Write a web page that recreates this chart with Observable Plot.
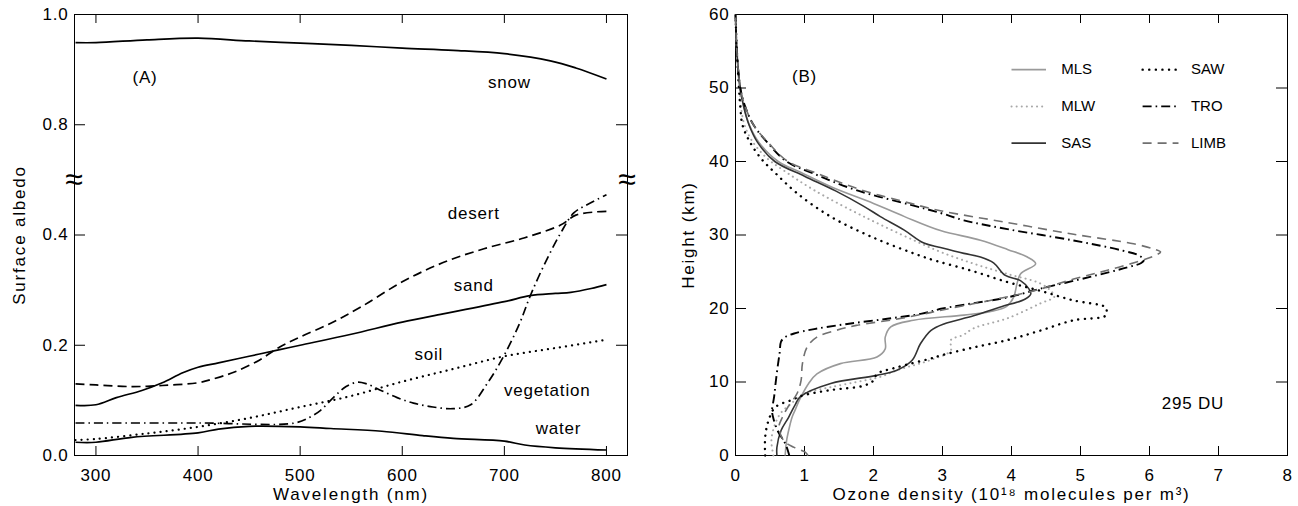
<!DOCTYPE html>
<html><head><meta charset="utf-8">
<script src="https://cdn.jsdelivr.net/npm/d3@7"></script>
<script src="https://cdn.jsdelivr.net/npm/@observablehq/plot@0.6"></script>
<style>
body{margin:0;background:#fff;}
#wrap{position:relative;width:1298px;height:506px;overflow:hidden;background:#fff;}
#left{position:absolute;left:0;top:0;}
#right{position:absolute;left:650px;top:0;}
#wrap svg text{letter-spacing:0.8px;}
#wrap svg .axlabel text{letter-spacing:1.8px;}
#wrap svg .legend text{letter-spacing:0px;}
</style></head><body><div id="wrap"><div id="left"></div><div id="right"></div></div>
<script>
// ---------- Panel (A): surface albedo vs wavelength ----------
const snow = [[280,0.949],[300,0.949],[350,0.954],[400,0.957],[450,0.952],[500,0.948],[550,0.944],[600,0.939],[650,0.935],[700,0.929],[745,0.916],[770,0.903],[800,0.883]];
const desert = [[280,0.130],[300,0.128],[335,0.125],[365,0.127],[400,0.132],[415,0.139],[435,0.151],[460,0.173],[480,0.197],[500,0.215],[530,0.24],[560,0.27],[600,0.315],[640,0.35],[680,0.375],[720,0.395],[755,0.418],[770,0.436],[790,0.442],[800,0.443]];
const sand = [[280,0.091],[300,0.092],[320,0.105],[345,0.118],[365,0.132],[385,0.15],[400,0.16],[420,0.168],[450,0.18],[480,0.192],[500,0.2],[550,0.22],[600,0.242],[640,0.257],[700,0.279],[725,0.29],[750,0.294],[765,0.296],[785,0.303],[800,0.31]];
const soil = [[280,0.028],[300,0.03],[350,0.04],[400,0.052],[450,0.068],[500,0.088],[550,0.108],[600,0.134],[650,0.157],[700,0.18],[750,0.195],[800,0.21]];
const vegetation = [[280,0.059],[400,0.059],[495,0.059],[510,0.07],[520,0.082],[533,0.106],[545,0.125],[556,0.133],[565,0.13],[578,0.119],[595,0.105],[611,0.095],[630,0.088],[650,0.085],[667,0.092],[683,0.13],[699,0.179],[715,0.24],[725,0.288],[738,0.342],[755,0.403],[768,0.44],[781,0.455],[800,0.473]];
const water = [[280,0.024],[300,0.024],[335,0.033],[400,0.041],[420,0.048],[450,0.053],[500,0.052],[530,0.049],[580,0.044],[620,0.036],[650,0.031],[700,0.026],[720,0.019],[750,0.014],[800,0.01]];
const wlTicks = [300,400,500,600,700,800];
const albTicks = [0.0,0.2,0.4,0.8,1.0];
const albBreak = [0.5];
const leftLabels = [
  {t:"(A)", w:348, a:0.885},{t:"snow", w:705, a:0.877},{t:"desert", w:670, a:0.439},
  {t:"sand", w:670, a:0.309},{t:"soil", w:626, a:0.183},{t:"vegetation", w:742, a:0.118},{t:"water", w:753, a:0.0485}
];

// ---------- Panel (B): ozone profiles (density, height) ----------
const MLS = [[0.72,0],[0.74,2],[0.78,3.8],[0.82,5.2],[0.86,6.1],[0.95,8.0],[1.06,9.8],[1.18,11.1],[1.52,12.5],[2.05,13.4],[2.17,14.5],[2.17,16.1],[2.25,17.5],[2.58,18.4],[3.31,19.1],[3.7,19.6],[3.93,20.3],[4.03,21.5],[4.08,23.4],[4.13,24.7],[4.35,26.1],[4.23,27.0],[3.95,28.0],[3.55,29.3],[2.97,30.6],[2.45,32.5],[2.0,34.3],[1.4,36.5],[0.95,38.5],[0.62,40],[0.34,42.6],[0.2,45],[0.12,47.5],[0.06,50],[0.02,55],[0,60]];
const MLW = [[0.55,0],[0.52,2.0],[0.56,3.9],[0.65,5.7],[0.8,7.0],[0.99,8.4],[1.38,9.3],[1.86,10.2],[2.1,10.7],[2.34,11.6],[2.83,13.0],[3.12,14.3],[3.12,15.7],[3.3,16.4],[3.45,17.3],[3.95,18.7],[4.42,20.7],[4.62,21.6],[4.58,22.3],[4.42,23.4],[3.94,24.7],[3.45,26.1],[2.97,27.7],[2.58,29.3],[1.86,32.5],[1.14,36.1],[0.68,38.9],[0.45,40.5],[0.24,42.8],[0.13,45],[0.08,47.4],[0.06,50],[0.02,55],[0,60]];
const SAS = [[0.60,0],[0.60,1.1],[0.66,3.4],[0.77,5.2],[0.87,7.0],[0.94,8.0],[1.38,9.8],[2.05,10.9],[2.34,11.6],[2.56,12.95],[2.68,15.2],[2.83,17.0],[3.02,17.9],[3.45,19.0],[3.84,20.2],[4.2,21.3],[4.28,22.0],[4.25,22.7],[4.13,23.8],[3.91,24.5],[3.74,26.2],[3.55,27.0],[3.31,27.5],[2.97,28.3],[2.73,28.9],[2.44,30.7],[2.1,32.5],[1.86,33.9],[1.45,36],[1.0,38],[0.57,40],[0.32,42.6],[0.195,45],[0.12,47.4],[0.07,50],[0.02,55],[0,60]];
const SAW = [[0.43,0],[0.43,2.5],[0.48,4.8],[0.58,6.6],[0.8,7.5],[0.99,8.2],[1.38,8.9],[1.86,9.5],[2.0,10.2],[2.05,11.1],[2.34,12.0],[2.83,13.2],[2.97,13.6],[3.45,14.7],[3.94,15.7],[4.42,17.0],[4.9,18.4],[5.36,19.0],[5.38,19.7],[5.36,20.2],[4.9,21.1],[4.42,22.4],[3.94,23.6],[3.4,25.2],[2.9,26.5],[2.58,27.5],[1.96,29.8],[1.38,32.5],[0.89,35.7],[0.58,38.4],[0.38,40.3],[0.2,42.8],[0.1,45],[0.07,47.4],[0.05,50],[0.02,55],[0,60]];
const TRO = [[0.78,0],[0.74,1.2],[0.70,2.0],[0.62,3.2],[0.55,5.0],[0.53,6.1],[0.56,8],[0.58,9.75],[0.61,12],[0.64,14],[0.66,15.5],[0.72,16.1],[0.85,16.6],[1.14,17.2],[1.62,17.9],[2.2,18.6],[2.7,19.3],[3.0,20.0],[3.5,20.8],[3.94,21.5],[4.42,22.7],[5.14,24.3],[5.68,25.6],[5.88,26.2],[5.92,26.6],[5.85,27.2],[5.6,27.9],[4.9,29.25],[3.94,30.8],[3.31,32.0],[2.97,33.0],[2.54,34.1],[1.75,36.1],[1.12,38.4],[0.74,40],[0.48,42.4],[0.26,45],[0.14,47.5],[0.07,50],[0.02,55],[0,60]];
const LIMB = [[1.05,0],[1.01,0.45],[0.85,1.1],[0.70,2.0],[0.63,3.9],[0.68,5.2],[0.76,6.6],[0.89,8.4],[0.95,10.2],[0.97,12.5],[1.04,14.8],[1.18,16.1],[1.45,17.0],[1.75,17.7],[2.3,18.5],[2.7,19.2],[3.0,19.8],[3.69,21.1],[4.32,22.4],[4.9,24.0],[5.39,25.2],[5.87,26.5],[6.1,27.3],[6.16,27.7],[6.06,28.1],[5.77,28.8],[4.9,30.1],[3.94,31.7],[2.97,33.3],[2.54,34.3],[1.8,36.2],[1.18,38.4],[0.76,40],[0.49,42.4],[0.26,45],[0.14,47.5],[0.07,50],[0.02,55],[0,60]];
const densTicks = [0,1,2,3,4,5,6,7,8];
const hTicks = [0,10,20,30,40,50,60];
const seriesNames = ["MLS","MLW","SAS","SAW","TRO","LIMB"];
const rightLabels = [{t:"(B)", d:1.0, h:51.5},{t:"295 DU", d:6.63, h:7.03}];

// ---------- styles & layout ----------
const FONT = "'Liberation Sans', Arial, sans-serif";
const leftStyle = {
  snow:{stroke:"#000"}, desert:{stroke:"#000", dash:"9,5"}, sand:{stroke:"#000"},
  soil:{stroke:"#000", dash:"0.1,6", cap:"round", w:2.2}, vegetation:{stroke:"#000", dash:"9,4,1.5,4"}, water:{stroke:"#000"}
};
const rightStyle = {
  MLS:{stroke:"#9a9a9a", w:1.6}, MLW:{stroke:"#a8a8a8", dash:"0.1,5", w:2, cap:"round"},
  SAS:{stroke:"#333333", w:1.6}, SAW:{stroke:"#000", dash:"0.1,6.5", w:2.4, cap:"round"},
  TRO:{stroke:"#000", dash:"9,4,1.6,4", w:1.9}, LIMB:{stroke:"#707070", dash:"9,6", w:1.6}
};
const rightData = {MLS, MLW, SAS, SAW, TRO, LIMB};
const leftData = {snow, desert, sand, soil, vegetation, water};

const W_L = 650, H = 506, mT = 14, mB = 51;
const mL_L = 74, mR_L = 23;
const W_R = 648, mL_R = 85, mR_R = 11;
const plotH = H - mT - mB;
const plotW_L = W_L - mL_L - mR_L, plotW_R = W_R - mL_R - mR_R;
const tickX = 9, tickY = 11;

const brk = v => v <= 0.55 ? v : v - 0.2;   // broken axis: 0.5–0.7 removed
const albPos = albTicks.map(brk);
const albFmt = d => d3.format(".1f")(albTicks[albPos.indexOf(d)]);

function inwardTicks(xs, ys, pw) {
  return [
    Plot.tickX(xs, {x: d => d, insetTop: plotH - tickX, stroke: "#000"}),
    Plot.tickX(xs, {x: d => d, insetBottom: plotH - tickX, stroke: "#000"}),
    Plot.tickY(ys, {y: d => d, insetRight: pw - tickY, stroke: "#000"}),
    Plot.tickY(ys, {y: d => d, insetLeft: pw - tickY, stroke: "#000"})
  ];
}

// ---------- left plot ----------
const leftMarks = [
  Plot.frame({stroke: "#000"}),
  ...inwardTicks(wlTicks, albPos, plotW_L),
  Plot.axisX(wlTicks, {tickSize: 0, tickPadding: 13, fontSize: 17, label: null}),
  Plot.axisY(albPos, {tickSize: 0, tickPadding: 6, fontSize: 17, tickFormat: albFmt, label: null}),
  Plot.text(albBreak, {y: d => brk(d), frameAnchor: "left", text: () => "≈", fontSize: 32, textAnchor: "middle"}),
  Plot.text(albBreak, {y: d => brk(d), frameAnchor: "right", text: () => "≈", fontSize: 32, textAnchor: "middle"}),
  ...Object.entries(leftData).map(([k, pts]) => Plot.line(pts, {
    x: d => d[0], y: d => brk(d[1]), curve: "catmull-rom",
    stroke: leftStyle[k].stroke, strokeWidth: leftStyle[k].w || 1.7, strokeDasharray: leftStyle[k].dash,
    strokeLinecap: leftStyle[k].cap || "butt"
  })),
  Plot.text(leftLabels, {x: "w", y: d => brk(d.a), text: "t", fontSize: 17}),
  Plot.text(["Wavelength (nm)"], {frameAnchor: "bottom", dy: 44, fontSize: 17, text: d => d, className: "axlabel"}),
  Plot.text(["Surface albedo"], {frameAnchor: "left", dx: -55, rotate: -90, textAnchor: "middle", fontSize: 17, text: d => d, className: "axlabel"})
];
const left = Plot.plot({
  width: W_L, height: H, marginLeft: mL_L, marginRight: mR_L, marginTop: mT, marginBottom: mB,
  x: {domain: [279, 820.6]}, y: {domain: [0, 0.8]},
  style: {fontFamily: FONT, fontSize: "17px", color: "#000", background: "transparent", overflow: "visible"},
  marks: leftMarks
});
document.getElementById("left").append(left);

// ---------- right plot ----------
const legendCols = [{x1: 4.0, x2: 4.5, tx: 4.72}, {x1: 5.9, x2: 6.42, tx: 6.6}];
const legendRows = [52.5, 47.5, 42.5];
const legendItems = seriesNames.map((n, i) => ({n, col: legendCols[Math.floor(i / 3)], row: legendRows[i % 3]}));

const rightMarks = [
  Plot.frame({stroke: "#000"}),
  ...inwardTicks(densTicks, hTicks, plotW_R),
  Plot.axisX(densTicks, {tickSize: 0, tickPadding: 13, fontSize: 17, label: null}),
  Plot.axisY(hTicks, {tickSize: 0, tickPadding: 6, fontSize: 17, label: null}),
  ...seriesNames.map(n => Plot.line(rightData[n], {
    x: d => d[0], y: d => d[1], curve: "catmull-rom",
    stroke: rightStyle[n].stroke, strokeWidth: rightStyle[n].w, strokeDasharray: rightStyle[n].dash,
    strokeLinecap: rightStyle[n].cap || "butt"
  })),
  ...legendItems.map(it => Plot.line([[it.col.x1, it.row], [it.col.x2, it.row]], {
    x: d => d[0], y: d => d[1],
    stroke: rightStyle[it.n].stroke, strokeWidth: rightStyle[it.n].w, strokeDasharray: rightStyle[it.n].dash,
    strokeLinecap: rightStyle[it.n].cap || "butt"
  })),
  Plot.text(legendItems, {x: d => d.col.tx, y: "row", text: "n", textAnchor: "start", fontSize: 15, className: "legend"}),
  Plot.text(rightLabels, {x: "d", y: "h", text: "t", fontSize: 17}),
  Plot.text(["Ozone density (10¹⁸ molecules per m³)"], {frameAnchor: "bottom", dy: 44, fontSize: 17, text: d => d, className: "axlabel"}),
  Plot.text(["Height (km)"], {frameAnchor: "left", dx: -47, rotate: -90, textAnchor: "middle", fontSize: 17, text: d => d, className: "axlabel"})
];
const right = Plot.plot({
  width: W_R, height: H, marginLeft: mL_R, marginRight: mR_R, marginTop: mT, marginBottom: mB,
  x: {domain: [0, 8]}, y: {domain: [0, 60]},
  style: {fontFamily: FONT, fontSize: "17px", color: "#000", background: "transparent", overflow: "visible"},
  marks: rightMarks
});
document.getElementById("right").append(right);
</script></body></html>
